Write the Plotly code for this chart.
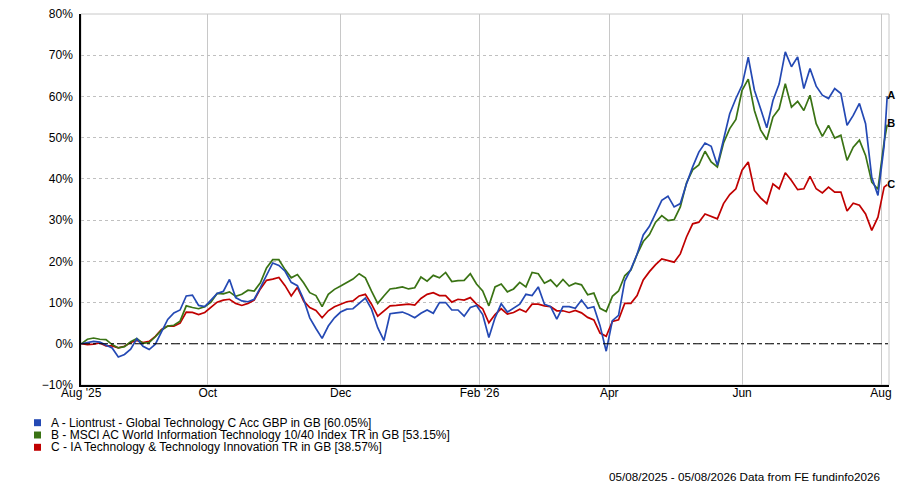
import pandas as pd
import plotly.graph_objects as go

# sampled every second trading day from 05/08/2025, plus the last day
all_days = pd.bdate_range("2025-08-05", "2026-08-05")
dates = list(all_days[::2]) + [all_days[-1]]

fund_a = [0, 0.3, 0.6, 0.4, -0.3, -1.0, -3.2, -2.6, -1.3, 1.2, -0.6, -1.4, -0.1, 2.9, 5.9, 7.5, 8.2, 11.6, 11.8, 9.3,
          9.0, 10.6, 12.2, 12.7, 15.6, 11.2,
          10.4, 10.2, 10.8, 13.6, 16.5, 19.6, 19.0, 17.6, 14.9, 14.1, 10.8, 6.3, 3.7, 1.3, 4.3, 6.3, 7.7, 8.4, 8.5,
          9.8, 11.1, 8.4, 3.9, 0.8, 7.3,
          7.5, 7.7, 7.1, 6.3, 7.4, 8.2, 7.4, 10.0, 10.0, 8.2, 8.2, 6.7, 8.8, 9.3, 7.1, 1.5, 6.3, 9.7, 7.7, 8.7,
          9.6, 12.0, 11.7, 13.8, 9.6,
          9.0, 6.0, 9.0, 9.0, 8.6, 10.6, 8.6, 9.0, 4.4, -1.8, 5.6, 6.9, 15.2, 18.1, 21.7, 26.4, 28.5,
          31.7, 34.8, 35.8, 33.2, 34.0, 38.8, 42.9, 46.5, 48.7, 47.9, 43.3, 49.4, 55.8, 59.5, 62.7, 69.5, 61.5, 57.0,
          52.4, 59.0,
          63.0, 70.8, 67.2, 69.6, 61.9, 66.8, 62.5, 60.3, 59.5, 61.9, 60.7, 53.0, 55.4, 58.3, 53.4, 40.4, 36.0, 48.0,
          60.05]

index_b = [0, 1.1, 1.4, 1.1, 1.0, -0.2, -1.0, -0.7, 0.5, 1.3, 0.1, 0.3, 1.7, 3.3, 4.3, 4.5, 5.5, 9.2, 8.8, 8.5,
           9.0, 10.1, 12.2, 12.1, 12.6, 11.5,
           12.0, 13.0, 12.8, 14.8, 18.4, 20.4, 20.4, 18.0, 16.0, 16.8, 14.8, 12.4, 11.7, 9.0, 12.0, 13.2, 14.0, 14.9,
           15.7, 17.0, 16.0, 12.8, 9.8, 11.6, 13.3,
           13.5, 13.8, 13.3, 13.6, 16.2, 15.2, 16.6, 16.0, 17.3, 15.1, 15.3, 15.4, 17.0, 14.5, 12.8, 9.2, 13.8, 14.5,
           12.6, 13.3, 14.9, 13.8, 17.3, 17.0, 14.7,
           15.5, 13.9, 15.6, 14.0, 14.7, 14.3, 11.9, 12.3, 8.6, 7.8, 11.5, 12.8, 16.5, 17.9, 21.7, 24.8, 26.5,
           29.5, 31.1, 29.9, 30.1, 33.2, 39.0, 42.2, 43.4, 46.7, 44.1, 42.9, 48.7, 52.2, 54.4, 61.5, 64.2, 56.6, 51.9,
           49.5, 55.0,
           57.0, 63.1, 57.4, 58.8, 56.6, 60.3, 53.4, 50.3, 53.0, 49.9, 50.6, 44.5, 47.7, 49.4, 45.7, 39.2, 37.5, 49.0,
           53.15]

sector_c = [0, -0.2, -0.1, 0.2, -0.5, -0.5, -1.0, -0.6, 0.3, 0.8, 0.3, 0.6, 1.8, 3.5, 4.3, 4.3, 5.0, 7.7, 7.6, 7.1,
            7.6, 8.8, 10.1, 10.6, 10.8, 9.8,
            9.3, 9.8, 10.6, 13.3, 15.4, 15.7, 16.1, 14.1, 11.6, 13.7, 10.4, 8.8, 8.1, 6.3, 8.0, 9.0, 9.6, 10.2, 10.4,
            11.6, 12.0, 9.6, 6.7, 8.0, 9.2,
            9.3, 9.4, 9.6, 9.4, 11.0, 12.0, 12.4, 11.7, 11.7, 10.1, 10.8, 10.6, 11.2, 9.6, 8.5, 5.1, 7.1, 8.5, 7.2,
            7.6, 8.4, 7.7, 9.6, 9.6, 9.2,
            9.0, 8.0, 8.0, 7.6, 8.1, 7.5, 6.4, 5.8, 2.6, 1.8, 5.4, 5.8, 9.8, 9.8, 11.7, 15.5, 17.5,
            19.2, 20.6, 20.2, 19.8, 21.8, 25.9, 29.1, 29.5, 31.5, 30.9, 30.3, 34.0, 36.2, 37.6, 42.1, 44.1, 37.2, 35.4,
            34.0, 38.8,
            37.6, 41.5, 39.6, 37.4, 37.6, 40.6, 37.6, 36.6, 38.0, 36.8, 36.8, 32.2, 34.1, 33.6, 31.5, 27.5, 30.7, 38.0,
            38.57]

names = ["A - Liontrust - Global Technology C Acc GBP in GB [60.05%]",
         "B - MSCI AC World Information Technology 10/40 Index TR in GB [53.15%]",
         "C - IA Technology & Technology Innovation TR in GB [38.57%]"]
letters = ["A", "B", "C"]
colors = ["#2449b4", "#3a7314", "#c00000"]

tick_dates = ["2025-08-05", "2025-10-01", "2025-12-01", "2026-02-02", "2026-04-01", "2026-06-01", "2026-08-03"]
tick_text = ["Aug '25", "Oct", "Dec", "Feb '26", "Apr", "Jun", "Aug"]

series = [fund_a, index_b, sector_c]
font = "Arial, Liberation Sans, sans-serif"

fig = go.Figure()
for vals, col in reversed(list(zip(series, colors))):
    fig.add_trace(go.Scatter(x=dates, y=vals, mode="lines", line=dict(color=col, width=1.7), showlegend=False))

# letters at the line ends
fig.add_trace(go.Scatter(x=[dates[-1]] * 3, y=[s[-1] for s in series], mode="text", text=letters,
                         textposition="middle right", cliponaxis=False, showlegend=False,
                         textfont=dict(family=font, size=11, color="black", weight="bold")))

fig.add_hline(y=0, line=dict(color="black", width=1, dash="dashdot"))
fig.add_shape(type="rect", xref="paper", yref="paper", x0=0, x1=1, y0=0, y1=1,
              line=dict(color="#c8c8c8", width=1), layer="below")

# legend rows under the chart
row_y = [-0.1016, -0.1348, -0.1679]
for ry, nm, col in zip(row_y, names, colors):
    fig.add_shape(type="rect", xref="paper", yref="paper", x0=-0.0582, x1=-0.0495,
                  y0=ry - 0.0094, y1=ry + 0.0094, line=dict(width=0), fillcolor=col)
    fig.add_annotation(x=-0.0396, xref="paper", y=ry, yref="paper", text=nm, showarrow=False,
                       xanchor="left", yanchor="middle", font=dict(family=font, size=12, color="black"))

fig.add_annotation(x=0.9913, xref="paper", y=-0.2472, yref="paper",
                   text="05/08/2025 - 05/08/2026 Data from FE fundinfo2026", showarrow=False,
                   xanchor="right", yanchor="middle", font=dict(family=font, size=11.7, color="black"))

fig.update_xaxes(type="date", rangebreaks=[dict(bounds=["sat", "mon"])],
                 range=["2025-08-04 22:00", "2026-08-05 14:00"],
                 tickvals=tick_dates, ticktext=tick_text, tickangle=0, automargin=False,
                 showgrid=True, gridcolor="#c8c8c8", gridwidth=1,
                 showline=True, linecolor="black", linewidth=1.5,
                 ticks="", ticklabelstandoff=-4, ticklabeloverflow="allow",
                 tickfont=dict(family=font, size=12, color="black"))
fig.update_yaxes(range=[-10, 80], dtick=10, ticksuffix="%", automargin=False,
                 showgrid=True, gridcolor="#c0c0c0", griddash="dot", gridwidth=1,
                 zeroline=False, showline=True, linecolor="black", linewidth=1.5,
                 ticks="", ticklabelstandoff=4, ticklabeloverflow="allow",
                 tickfont=dict(family=font, size=12, color="black"))
fig.update_layout(width=900, height=484, margin=dict(l=81, r=11, t=14, b=99, autoexpand=False),
                  plot_bgcolor="white", paper_bgcolor="white", showlegend=False)
# drop the browser's default body margin so the 900x484 figure fills the window exactly
page_fix = ("document.body.style.margin='0';"
            "document.body.style.overflow='hidden';"
            "document.documentElement.style.overflow='hidden';")
fig.write_html("out.html", config={"displayModeBar": False}, post_script=page_fix)
